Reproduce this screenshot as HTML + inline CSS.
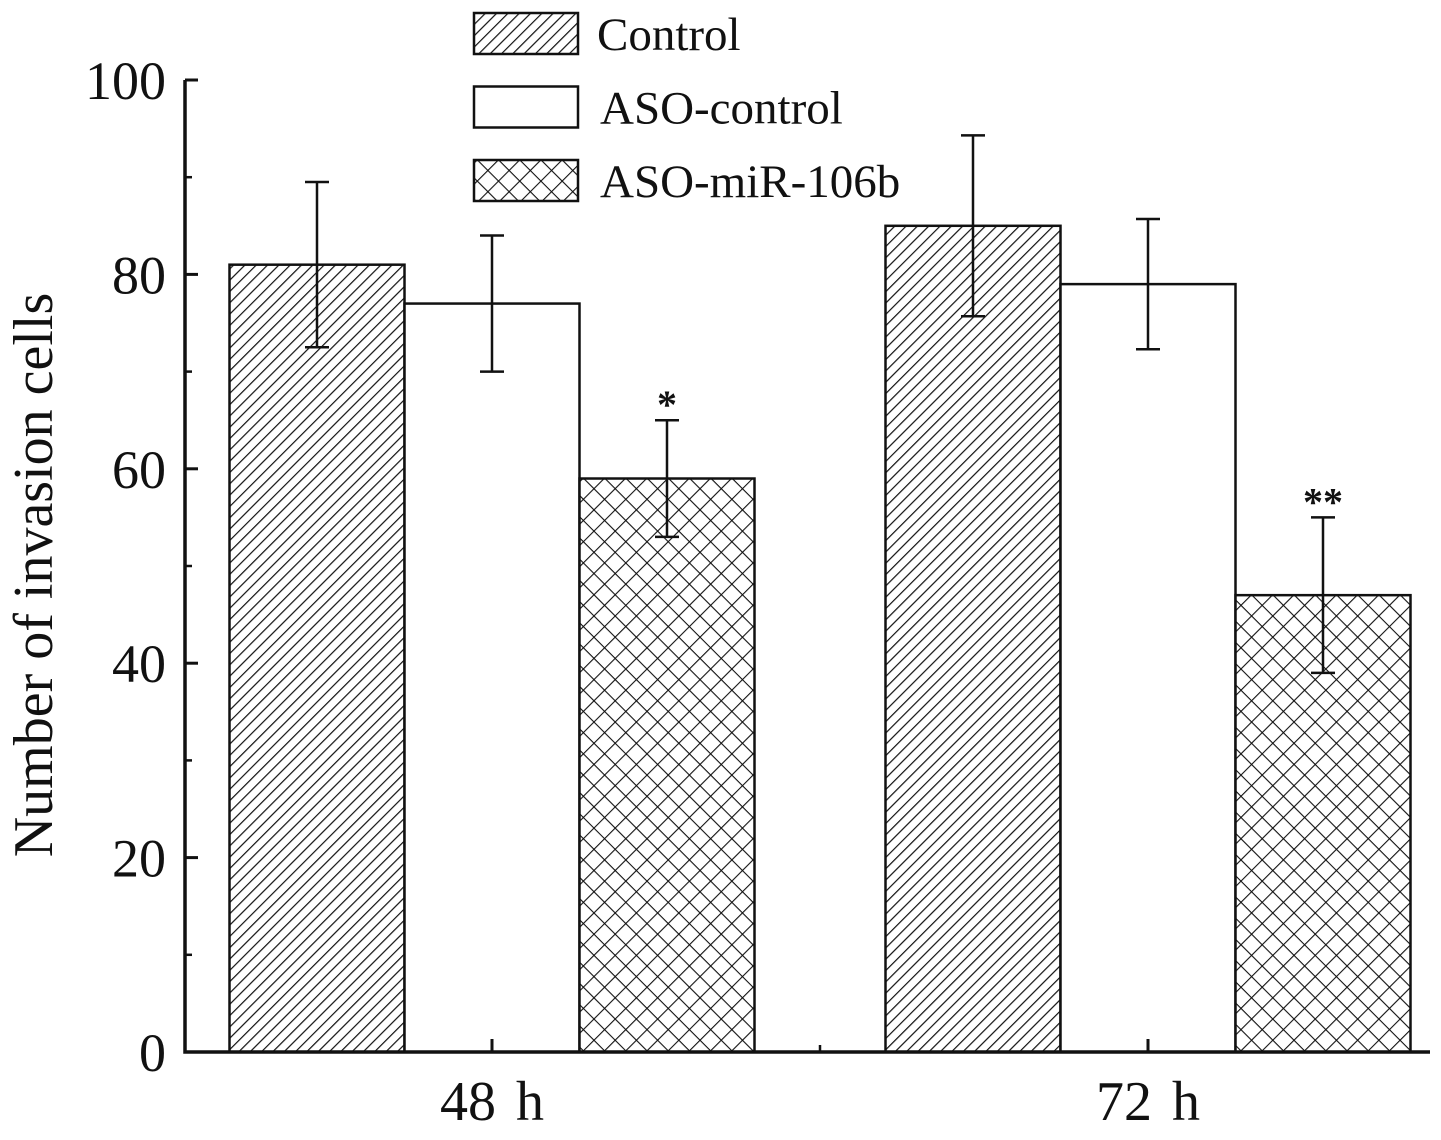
<!DOCTYPE html>
<html><head><meta charset="utf-8"><style>body{margin:0;background:#fff}svg text{font-family:"Liberation Serif",serif;fill:#111}</style></head>
<body>
<svg id="chart" width="1441" height="1135" viewBox="0 0 1441 1135" xmlns="http://www.w3.org/2000/svg">
<defs>
<pattern id="diag" patternUnits="userSpaceOnUse" width="8" height="8" patternTransform="rotate(45)">
<rect width="8" height="8" fill="#fff"/><line x1="0" y1="0" x2="0" y2="8" stroke="#111" stroke-width="2.4"/></pattern>
<pattern id="cross" patternUnits="userSpaceOnUse" width="15" height="15" patternTransform="rotate(45)">
<rect width="15" height="15" fill="#fff"/><line x1="0" y1="0" x2="0" y2="15" stroke="#111" stroke-width="2.2"/><line x1="0" y1="0" x2="15" y2="0" stroke="#111" stroke-width="2.2"/></pattern>
</defs>
<g id="plot"></g>
</svg>
<script>
const categories = ["48 h", "72 h"];
const seriesNames = ["Control", "ASO-control", "ASO-miR-106b"];
const controlValues = [81, 85];
const asoControlValues = [77, 79];
const asoMirValues = [59, 47];
const controlErr = [8.5, 9.3];
const asoControlErr = [7, 6.7];
const asoMirErr = [6, 8];
const significance = ["*", "**"];
const yTicks = [0, 20, 40, 60, 80, 100];

const NS = "http://www.w3.org/2000/svg";
const g = document.getElementById("plot");
const X0 = 185, X1 = 1430, Y0 = 1052, Y100 = 80;
const y = v => Y0 - (v / 100) * (Y0 - Y100);
const groupCenter = i => 492 + i * 656;
const barW = 175;
function mk(tag, attrs, parent) { const e = document.createElementNS(NS, tag); for (const k in attrs) e.setAttribute(k, attrs[k]); (parent || g).appendChild(e); return e; }

const fills = ["url(#diag)", "#fff", "url(#cross)"];
const vals = [controlValues, asoControlValues, asoMirValues];
const errs = [controlErr, asoControlErr, asoMirErr];
categories.forEach((c, i) => {
  for (let s = 0; s < 3; s++) {
    const x = groupCenter(i) - 1.5 * barW + s * barW;
    const r = mk("rect", { x: x, y: y(vals[s][i]), width: barW, height: Y0 - y(vals[s][i]), fill: fills[s], stroke: "#111", "stroke-width": 2.5 });
    
    
    const cx = x + barW / 2, hi = y(vals[s][i] + errs[s][i]), lo = y(vals[s][i] - errs[s][i]);
    const eb = mk("path", { d: `M${cx},${hi}V${lo}M${cx - 12},${hi}H${cx + 12}M${cx - 12},${lo}H${cx + 12}`, stroke: "#111", "stroke-width": 2.5, fill: "none" });
    
    
    if (s === 2) {
      const t = mk("text", { x: cx, y: hi - 2, "font-size": 40, "text-anchor": "middle", "font-weight": "bold" });
      t.textContent = significance[i];
      
      
    }
  }
  const tk = mk("line", { x1: groupCenter(i), x2: groupCenter(i), y1: Y0, y2: Y0 - 13, stroke: "#111", "stroke-width": 3 });
  
  
  const lb = mk("text", { x: groupCenter(i), y: 1120, "font-size": 56, "text-anchor": "middle", "word-spacing": "6" });
  lb.textContent = c;
  
  
});
const mt = mk("line", { x1: 820, x2: 820, y1: Y0, y2: Y0 - 7, stroke: "#111", "stroke-width": 2.5 });



yTicks.forEach(v => {
  const t = mk("line", { x1: X0, x2: X0 + 13, y1: y(v), y2: y(v), stroke: "#111", "stroke-width": 3 });
  
  
  if (v < 100) {
    const m = mk("line", { x1: X0, x2: X0 + 7, y1: y(v + 10), y2: y(v + 10), stroke: "#111", "stroke-width": 2.5 });
    
    
  }
  const l = mk("text", { x: 166, y: y(v) + 19, "font-size": 54, "text-anchor": "end" });
  l.textContent = v;
  
  
});
const ax = mk("path", { d: `M${X0},${Y100}V${Y0}H${X1}`, stroke: "#111", "stroke-width": 3.5, fill: "none" });


const yt = mk("text", { x: 0, y: 0, "font-size": 56, "text-anchor": "middle", transform: "translate(52,575) rotate(-90)" });
yt.textContent = "Number of invasion cells";



seriesNames.forEach((n, s) => {
  const top = 13 + s * 73.5;
  const b = mk("rect", { x: 474, y: top, width: 104, height: 41, fill: fills[s], stroke: "#111", "stroke-width": 2.5 });
  
  
  const t = mk("text", { x: s === 0 ? 597 : 600, y: top + 37, "font-size": 47 });
  t.textContent = n;
  
  
});
</script>
</body></html>
